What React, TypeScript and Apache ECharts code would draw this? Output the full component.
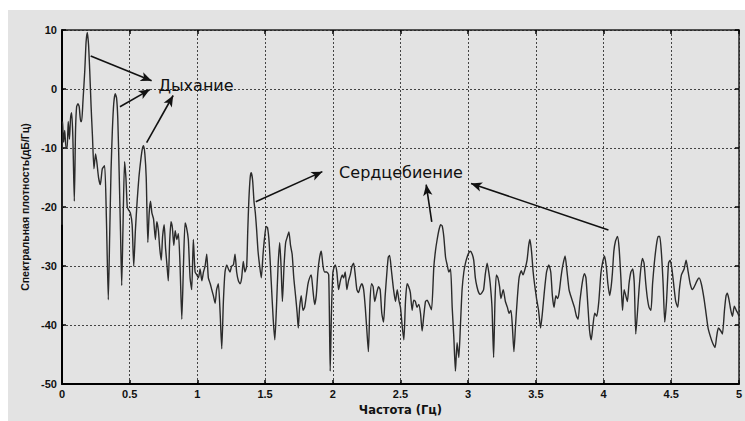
import React, { useEffect, useRef } from "react";
import * as echarts from "echarts";

// Spectrum samples: [frequency (Hz), spectral density (dB/Hz)]
const bandLow: number[][] = [
  [0.000, -23], [0.004, -5.5], [0.012, -9], [0.020, -7], [0.030, -10], [0.038, -10], [0.046, -5.5],
  [0.055, -8.5], [0.063, -5], [0.071, -4], [0.080, -8], [0.091, -19], [0.100, -7], [0.108, -3],
  [0.118, -2.5], [0.127, -3], [0.138, -5.5], [0.145, -5.5], [0.155, -2], [0.168, 3], [0.178, 8],
  [0.187, 9.6], [0.196, 7.5], [0.205, 3], [0.215, -3], [0.225, -8], [0.236, -13.5], [0.248, -11],
  [0.258, -12.5], [0.270, -15], [0.283, -16.2], [0.298, -13.5], [0.315, -13], [0.328, -22],
  [0.342, -35.7], [0.352, -25], [0.362, -14], [0.372, -7], [0.382, -2.5], [0.393, -0.8],
  [0.403, -1.5], [0.412, -5], [0.422, -14], [0.432, -24], [0.441, -33.3], [0.450, -24],
  [0.462, -12.3], [0.472, -15], [0.482, -20], [0.492, -20.5], [0.505, -21], [0.518, -23],
  [0.530, -30], [0.542, -24], [0.555, -19], [0.568, -15], [0.582, -12], [0.593, -10.2],
  [0.602, -9.6], [0.612, -11], [0.622, -15], [0.634, -26], [0.644, -21], [0.654, -19],
  [0.664, -21], [0.676, -22], [0.690, -25.5], [0.700, -22.5], [0.712, -24], [0.722, -27],
  [0.733, -29], [0.743, -25], [0.755, -23], [0.765, -27], [0.776, -30], [0.785, -32.5],
  [0.795, -26], [0.805, -22.5], [0.815, -23.5], [0.826, -26.5], [0.836, -24], [0.848, -25.5],
  [0.860, -24.5], [0.872, -30], [0.885, -39], [0.897, -30], [0.909, -22.7], [0.920, -23.5],
  [0.933, -25.5], [0.946, -32], [0.958, -34], [0.970, -25.5], [0.983, -31], [0.996, -31.5],
];

const bandMid: number[][] = [
  [1.008, -32], [1.020, -30.5], [1.033, -32.5], [1.045, -31], [1.057, -30], [1.069, -28],
  [1.081, -32], [1.095, -33], [1.106, -34], [1.118, -35], [1.131, -36.3], [1.142, -34],
  [1.155, -33], [1.168, -38], [1.180, -44], [1.192, -36], [1.204, -31], [1.217, -29.8],
  [1.229, -30.5], [1.241, -31], [1.253, -30], [1.266, -29.8], [1.278, -28], [1.290, -31],
  [1.303, -32.5], [1.315, -33], [1.327, -32], [1.339, -29.2], [1.351, -31], [1.364, -30],
  [1.372, -24], [1.380, -18.9], [1.390, -15], [1.398, -14.2], [1.408, -15.5], [1.418, -19],
  [1.428, -21], [1.438, -24], [1.448, -27.5], [1.460, -30], [1.472, -32], [1.485, -28],
  [1.497, -25], [1.508, -23.3], [1.518, -23.5], [1.530, -26], [1.545, -32.5], [1.560, -39],
  [1.572, -42.5], [1.584, -37], [1.596, -30], [1.608, -26], [1.618, -30], [1.628, -36],
  [1.640, -30], [1.652, -26], [1.665, -25], [1.676, -24.2], [1.688, -26.5], [1.700, -28],
  [1.712, -32], [1.725, -35], [1.737, -38], [1.745, -40.5], [1.755, -37], [1.767, -35],
  [1.780, -37.5], [1.792, -37], [1.805, -35], [1.817, -33], [1.829, -32], [1.841, -31.5],
  [1.853, -34], [1.866, -36.5], [1.878, -35], [1.890, -31], [1.903, -28.5], [1.915, -27.5],
  [1.928, -30], [1.940, -31], [1.955, -31], [1.970, -31.5], [1.981, -47.8], [1.990, -38],
  [2.001, -31], [2.018, -29.8], [2.030, -31], [2.043, -34], [2.056, -32.5], [2.070, -31.5],
  [2.080, -32], [2.092, -31], [2.104, -34], [2.116, -32.5], [2.129, -31.5], [2.142, -30],
  [2.154, -29.5], [2.166, -31.5], [2.178, -34], [2.190, -34.5], [2.203, -33.5], [2.215, -33],
  [2.228, -34], [2.240, -37], [2.252, -41], [2.263, -44.5], [2.275, -36], [2.287, -33],
  [2.298, -33.5], [2.310, -36], [2.325, -34.5], [2.338, -33.5], [2.350, -34], [2.362, -38],
  [2.375, -39.5], [2.387, -35], [2.400, -31], [2.410, -28.5], [2.420, -28.2], [2.432, -30.5],
  [2.449, -34], [2.463, -36], [2.476, -34], [2.490, -36],
];

const bandHigh: number[][] = [
  [2.500, -37], [2.512, -40], [2.525, -42.5], [2.537, -36], [2.549, -33], [2.561, -33.5],
  [2.573, -34.5], [2.586, -37.5], [2.598, -35.8], [2.610, -36], [2.622, -37], [2.635, -36.5],
  [2.648, -38], [2.660, -41], [2.672, -38.5], [2.685, -36], [2.697, -35.8], [2.709, -36.3],
  [2.729, -37.4], [2.746, -30.3], [2.758, -27.5], [2.771, -25.5], [2.785, -23.8], [2.797, -23],
  [2.808, -23.2], [2.820, -25], [2.833, -28.5], [2.845, -29.8], [2.857, -31], [2.870, -30.5],
  [2.882, -37], [2.894, -42], [2.906, -47.8], [2.918, -43], [2.931, -45.5], [2.943, -40],
  [2.955, -34], [2.968, -31], [2.980, -29.5], [2.992, -28.5], [3.004, -27.8], [3.016, -27.5],
  [3.030, -28], [3.041, -29], [3.053, -32], [3.065, -33.5], [3.078, -34.5], [3.090, -34.8],
  [3.102, -34.5], [3.114, -34], [3.126, -31.5], [3.140, -29.5], [3.152, -31], [3.163, -33],
  [3.176, -37], [3.188, -45.5], [3.198, -36], [3.208, -31.5], [3.220, -32], [3.232, -33.5],
  [3.242, -35.5], [3.259, -34], [3.275, -36], [3.290, -37], [3.302, -38], [3.316, -37.5],
  [3.326, -40], [3.338, -44.5], [3.350, -40], [3.363, -35.5], [3.376, -32], [3.392, -30.8],
  [3.405, -31.5], [3.420, -30.5], [3.435, -29], [3.447, -26.5], [3.456, -25.5], [3.468, -27.5],
  [3.480, -31], [3.490, -33], [3.505, -35.5], [3.520, -37.5], [3.535, -40.5], [3.548, -38],
  [3.562, -34.5], [3.579, -31], [3.596, -29.8], [3.610, -31], [3.622, -35], [3.634, -37],
  [3.648, -35], [3.660, -35.5], [3.672, -34.5], [3.685, -32], [3.698, -30], [3.716, -28.3],
  [3.728, -30.5], [3.745, -34], [3.757, -35], [3.771, -36], [3.785, -37], [3.800, -38.5],
  [3.812, -39], [3.825, -36], [3.845, -32.5], [3.859, -31.3], [3.870, -32], [3.885, -37],
  [3.897, -41], [3.909, -42.5], [3.922, -40], [3.935, -38], [3.950, -38.5], [3.965, -36],
  [3.980, -31.3], [3.992, -29.5], [4.007, -28.3], [4.020, -30], [4.032, -33], [4.045, -35],
  [4.056, -33.5], [4.066, -31], [4.076, -27.5], [4.088, -25.8], [4.103, -25], [4.115, -27],
  [4.128, -32], [4.140, -37.5], [4.152, -34], [4.164, -35], [4.176, -36], [4.188, -33],
  [4.202, -31], [4.215, -30.5], [4.227, -33], [4.238, -41.5], [4.250, -38], [4.262, -34],
  [4.275, -30.5], [4.287, -28.7], [4.299, -29.5], [4.312, -33], [4.324, -35.5], [4.336, -37],
  [4.350, -37.5], [4.362, -33], [4.375, -29.5], [4.390, -26.5], [4.403, -25], [4.415, -25],
  [4.428, -28], [4.440, -33], [4.452, -39.5], [4.465, -36], [4.480, -29.5], [4.492, -29],
  [4.505, -30.5], [4.520, -33.5], [4.533, -36], [4.548, -37], [4.560, -34], [4.575, -31.5],
  [4.595, -30.5], [4.610, -29], [4.625, -31], [4.640, -33], [4.656, -34], [4.670, -33.5],
  [4.690, -32.5], [4.705, -32], [4.722, -33], [4.742, -35.5], [4.757, -38], [4.772, -40.5],
  [4.790, -42], [4.805, -43], [4.823, -43.8], [4.835, -42], [4.848, -40.5], [4.866, -41],
  [4.878, -41.5], [4.893, -37.5], [4.905, -35], [4.914, -34.6], [4.925, -35.5], [4.940, -37.5],
  [4.952, -38.5], [4.966, -36.8], [4.980, -37.5], [4.992, -38], [5.000, -38.5],
];

// Annotations (data coordinates): [fromX, fromY, toX, toY]
const breathArrows: number[][] = [
  [0.212, 5.6, 0.662, 1.4],
  [0.428, -3.0, 0.649, -0.1],
  [0.625, -9.1, 0.821, -1.1],
];
const heartArrows: number[][] = [
  [1.431, -19.1, 1.923, -14.0],
  [2.731, -22.5, 2.690, -16.2],
  [4.036, -23.9, 3.021, -16.0],
];
const breathLabel = { text: "Дыхание", x: 0.99, y: 0.6 };
const heartLabel = { text: "Сердцебиение", x: 2.504, y: -14.2 };

const xTitle = "Частота (Гц)";
const yTitle = "Спектральная плотность(дБ/Гц)";

const BG = "#e3e3e3";
const INK = "#111111";

export default function App() {
  const ref = useRef<HTMLDivElement>(null);

  useEffect(() => {
    if (!ref.current) return;
    const chart = echarts.init(ref.current, undefined, { renderer: "svg" });
    const spectrum = [...bandLow, ...bandMid, ...bandHigh];
    const arrows = [...breathArrows, ...heartArrows].map((a) => [
      { coord: [a[0], a[1]], symbol: "none" },
      { coord: [a[2], a[3]], symbol: "arrow", symbolSize: [7, 11] },
    ]);
    const labelStyle = {
      show: true,
      position: "inside",
      fontFamily: "DejaVu Sans",
      fontSize: 16,
      color: "#111",
    };
    const tickLabel = {
      fontFamily: "Liberation Sans",
      fontWeight: "bold",
      fontSize: 11,
      color: INK,
    };
    chart.setOption({
      animation: false,
      backgroundColor: BG,
      grid: { left: 54, top: 20, right: 5, bottom: 27, containLabel: false },
      xAxis: [
        {
          type: "value",
          min: 0,
          max: 5,
          interval: 0.5,
          name: xTitle,
          nameLocation: "middle",
          nameGap: 13,
          nameTextStyle: {
            fontFamily: "DejaVu Sans",
            fontWeight: "bold",
            fontSize: 11.5,
            color: INK,
          },
          axisLine: { show: true, onZero: false, lineStyle: { color: "#000", width: 2 } },
          axisTick: { show: true, inside: true, length: 4, lineStyle: { color: "#000", width: 1.5 } },
          axisLabel: { ...tickLabel, margin: 4 },
          splitLine: { show: true, lineStyle: { color: "#444", type: [2, 2], width: 1 } },
        },
        {
          type: "value",
          position: "top",
          min: 0,
          max: 5,
          interval: 0.5,
          axisLine: { show: true, onZero: false, lineStyle: { color: "#222", width: 1.5 } },
          axisTick: { show: true, inside: true, length: 4, lineStyle: { color: "#000", width: 1.5 } },
          axisLabel: { show: false },
          splitLine: { show: false },
        },
      ],
      yAxis: [
        {
          type: "value",
          min: -50,
          max: 10,
          interval: 10,
          name: yTitle,
          nameLocation: "middle",
          nameGap: 29,
          nameRotate: 90,
          nameTextStyle: {
            fontFamily: "Liberation Sans",
            fontWeight: "bold",
            fontSize: 10.5,
            color: INK,
          },
          axisLine: { show: true, onZero: false, lineStyle: { color: "#000", width: 2 } },
          axisTick: { show: true, inside: true, length: 4, lineStyle: { color: "#000", width: 1.5 } },
          axisLabel: { ...tickLabel, margin: 5 },
          splitLine: { show: true, lineStyle: { color: "#444", type: [2, 2], width: 1 } },
        },
        {
          type: "value",
          position: "right",
          min: -50,
          max: 10,
          interval: 10,
          axisLine: { show: true, onZero: false, lineStyle: { color: "#222", width: 1.5 } },
          axisTick: { show: true, inside: true, length: 4, lineStyle: { color: "#000", width: 1.5 } },
          axisLabel: { show: false },
          splitLine: { show: false },
        },
      ],
      series: [
        {
          type: "line",
          data: spectrum,
          showSymbol: false,
          symbol: "none",
          silent: true,
          smooth: 0.2,
          lineStyle: { color: "#2b2b2b", width: 1.4 },
          markLine: {
            silent: true,
            animation: false,
            label: { show: false },
            lineStyle: { color: "#111", width: 1.6, type: "solid" },
            emphasis: { disabled: true },
            data: arrows,
          },
          markPoint: {
            silent: true,
            symbol: "circle",
            symbolSize: 0,
            data: [
              { coord: [breathLabel.x, breathLabel.y], label: { ...labelStyle, formatter: breathLabel.text } },
              { coord: [heartLabel.x, heartLabel.y], label: { ...labelStyle, formatter: heartLabel.text } },
            ],
          },
        },
      ],
    });
    return () => chart.dispose();
  }, []);

  return (
    <div
      style={{
        position: "absolute",
        left: 8,
        top: 10,
        width: 737,
        height: 411,
        background: BG,
      }}
    >
      <div ref={ref} style={{ width: 737, height: 411 }} />
    </div>
  );
}
